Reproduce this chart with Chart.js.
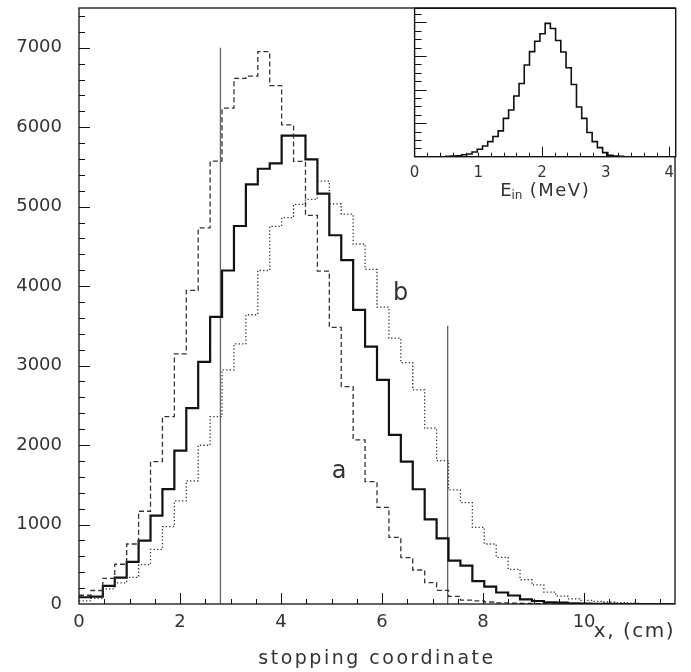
<!DOCTYPE html>
<html>
<head>
<meta charset="utf-8">
<script src="https://cdn.jsdelivr.net/npm/chart.js@4.4.1/dist/chart.umd.min.js"></script>
<style>
  html, body { margin: 0; padding: 0; background: #fff; }
  #wrap { position: relative; width: 691px; height: 672px; }
  #wrap canvas { position: absolute; left: 0; top: 0; }
</style>
</head>
<body>
<div id="wrap">
  <canvas id="mainPlot" width="691" height="672"></canvas>
  <canvas id="insetPlot" width="691" height="672"></canvas>
</div>
<script>
// ---- main histograms: stopping coordinate, 50 bins of 0.236 cm ----
const binWidth = 0.236;
// curve a (dashed)
const countsA = [110, 170, 323, 500, 755, 1167, 1792, 2358, 3147, 3946,
  4732, 5573, 6240, 6615, 6642, 6950, 6523, 6030, 5569, 4891,
  4188, 3480, 2736, 2065, 1540, 1217, 839, 583, 428, 269,
  172, 96, 50, 40, 25, 15, 10, 6, 3, 2,
  0, 0, 0, 0, 0, 0, 0, 0, 0, 0];
// middle curve (solid)
const countsMid = [85, 92, 227, 333, 530, 798, 1113, 1445, 1929, 2466,
  3046, 3613, 4197, 4757, 5280, 5477, 5544, 5895, 5895, 5594,
  5163, 4640, 4327, 3701, 3240, 2820, 2128, 1792, 1444, 1066,
  827, 546, 483, 288, 218, 145, 107, 59, 38, 21,
  17, 8, 4, 2, 1, 0, 0, 0, 0, 0];
// curve b (dotted)
const countsB = [40, 70, 190, 267, 336, 495, 688, 974, 1297, 1549,
  1998, 2358, 2946, 3273, 3640, 4197, 4753, 4862, 5029, 5092,
  5322, 5035, 4905, 4530, 4210, 3735, 3345, 3038, 2694, 2212,
  1804, 1435, 1276, 965, 755, 587, 436, 305, 240, 150,
  100, 65, 45, 33, 25, 18, 12, 5, 0, 0];

// cut lines
const cutX = [2.8, 7.3];
const cutTop = [7000, 3500];

// tick labels
const xTicks = [0, 2, 4, 6, 8, 10];
const yTicks = [0, 1000, 2000, 3000, 4000, 5000, 6000, 7000];

// curve names
const curveNames = ['a', 'b'];
const curveNameX = [5.15, 6.37];
const curveNameY = [1670, 3900];

// ---- inset: E_in spectrum, 50 bins of 0.082 MeV ----
const eBinWidth = 0.082;
const eCounts = [0, 0, 0, 0, 0, 0, 0.01, 0.02, 0.03, 0.06,
  0.08, 0.14, 0.22, 0.32, 0.45, 0.60, 0.77, 1.14, 1.39, 1.81,
  2.18, 2.73, 3.13, 3.44, 3.66, 3.97, 3.82, 3.46, 3.12, 2.65,
  2.15, 1.48, 1.14, 0.72, 0.45, 0.27, 0.12, 0.04, 0.02, 0.01,
  0, 0, 0, 0, 0, 0, 0, 0, 0, 0];
const eTicks = [0, 1, 2, 3, 4];

const FONT = '"DejaVu Sans", sans-serif';
const INK = '#333';

// left edge of each bin carries its count, step drawn to the next edge
function histPoints(counts, w) {
  const pts = counts.map((c, i) => ({ x: i * w, y: c }));
  pts.push({ x: counts.length * w, y: counts[counts.length - 1] });
  return pts;
}

function fixedTicks(list) {
  return scale => { scale.ticks = list.map(v => ({ value: v })); };
}

// fixed axis box, no extra label padding
function fixBox(w, h) {
  return s => {
    if (w != null) s.width = w;
    if (h != null) s.height = h;
    s.paddingTop = s.paddingBottom = s.paddingLeft = s.paddingRight = 0;
  };
}

// frame + inward ticks, PAW style
const frameTicks = {
  id: 'frameTicks',
  beforeDatasetsDraw(chart, args, o) {
    if (!o.fill) return;
    const a = chart.chartArea, ctx = chart.ctx;
    ctx.save();
    ctx.fillStyle = '#fff';
    ctx.fillRect(a.left, a.top, a.right - a.left, a.bottom - a.top);
    ctx.restore();
  },
  afterDatasetsDraw(chart, args, o) {
    const a = chart.chartArea, ctx = chart.ctx;
    const xs = chart.scales.x, ys = chart.scales.y;
    ctx.save();
    ctx.strokeStyle = '#111';
    ctx.lineWidth = o.lineWidth;
    ctx.strokeRect(a.left, a.top, a.right - a.left, a.bottom - a.top);
    ctx.lineWidth = 1;
    ctx.beginPath();
    const n1 = Math.floor(xs.max / o.xMinor + 1e-6);
    for (let i = 1; i <= n1; i++) {
      const v = i * o.xMinor;
      const major = Math.abs(v / o.xMajor - Math.round(v / o.xMajor)) < 1e-6;
      const px = Math.round(xs.getPixelForValue(v)) + 0.5;
      ctx.moveTo(px, a.bottom);
      ctx.lineTo(px, a.bottom - (major ? o.xMajorLen : o.xMinorLen));
    }
    const n2 = Math.floor(ys.max / o.yMinor + 1e-6);
    for (let i = 1; i <= n2; i++) {
      const v = i * o.yMinor;
      const major = Math.abs(v / o.yMajor - Math.round(v / o.yMajor)) < 1e-6;
      const py = Math.round(ys.getPixelForValue(v)) + 0.5;
      ctx.moveTo(a.left, py);
      ctx.lineTo(a.left + (major ? o.yMajorLen : o.yMinorLen), py);
    }
    ctx.stroke();
    ctx.restore();
  }
};

// free text on the main plot
const mainText = {
  id: 'mainText',
  afterDraw(chart) {
    const ctx = chart.ctx, a = chart.chartArea;
    const xs = chart.scales.x, ys = chart.scales.y;
    ctx.save();
    ctx.fillStyle = INK;
    ctx.textBaseline = 'middle';
    ctx.font = '24px ' + FONT;
    ctx.textAlign = 'center';
    curveNames.forEach((t, i) => {
      ctx.fillText(t, xs.getPixelForValue(curveNameX[i]), ys.getPixelForValue(curveNameY[i]));
    });
    ctx.font = '19px ' + FONT;
    ctx.letterSpacing = '2.5px';
    ctx.fillText('stopping coordinate', (a.left + a.right) / 2, 659);
    ctx.letterSpacing = '1.5px';
    ctx.font = '20px ' + FONT;
    ctx.textAlign = 'right';
    ctx.fillText('x, (cm)', a.right, 632);
    ctx.restore();
  }
};

const insetText = {
  id: 'insetText',
  afterDraw(chart) {
    const ctx = chart.ctx, a = chart.chartArea;
    ctx.save();
    ctx.fillStyle = INK;
    ctx.textBaseline = 'alphabetic';
    ctx.textAlign = 'left';
    const big = '18px ' + FONT, small = '12px ' + FONT;
    ctx.font = big;
    const wE = ctx.measureText('E').width;
    const rest = ' (MeV)';
    ctx.letterSpacing = '1.5px';
    const wR = ctx.measureText(rest).width;
    ctx.letterSpacing = '0px';
    ctx.font = small;
    const wS = ctx.measureText('in').width;
    const total = wE + wS + wR;
    let x = (a.left + a.right) / 2 - total / 2;
    const base = 196;
    ctx.font = big;
    ctx.fillText('E', x, base);
    x += wE;
    ctx.font = small;
    ctx.fillText('in', x, base + 3);
    x += wS;
    ctx.font = big;
    ctx.letterSpacing = '1.5px';
    ctx.fillText(rest, x, base);
    ctx.restore();
  }
};

const tickFont = { family: FONT, size: 18 };
const plainNum = v => String(v);

new Chart(document.getElementById('mainPlot'), {
  type: 'line',
  data: {
    datasets: [
      { label: 'b', data: histPoints(countsB, binWidth), stepped: 'before',
        borderColor: '#333', borderWidth: 1.3, borderDash: [1.3, 2.2] },
      { label: 'a', data: histPoints(countsA, binWidth), stepped: 'before',
        borderColor: '#333', borderWidth: 1.3, borderDash: [5, 3] },
      { label: 'mid', data: histPoints(countsMid, binWidth), stepped: 'before',
        borderColor: '#111', borderWidth: 2.2 },
      { label: 'cut1', data: [{ x: cutX[0], y: 0 }, { x: cutX[0], y: cutTop[0] }],
        borderColor: '#666', borderWidth: 1.3 },
      { label: 'cut2', data: [{ x: cutX[1], y: 0 }, { x: cutX[1], y: cutTop[1] }],
        borderColor: '#444', borderWidth: 1.1 }
    ]
  },
  options: {
    responsive: false,
    animation: false,
    devicePixelRatio: 1,
    elements: { point: { radius: 0 }, line: { tension: 0 } },
    layout: { padding: { top: 8, right: 16, left: 0, bottom: 0 } },
    plugins: {
      legend: { display: false },
      tooltip: { enabled: false },
      frameTicks: { lineWidth: 1.3, xMinor: 0.5, xMajor: 2, xMinorLen: 5, xMajorLen: 11,
        yMinor: 200, yMajor: 1000, yMinorLen: 6, yMajorLen: 11 }
    },
    scales: {
      x: {
        type: 'linear', min: 0, max: 11.8,
        afterBuildTicks: fixedTicks(xTicks),
        afterFit: fixBox(null, 68),
        grid: { display: false, drawTicks: false },
        border: { display: false },
        ticks: { font: tickFont, color: INK, padding: 8, maxRotation: 0, autoSkip: false, callback: plainNum }
      },
      y: {
        type: 'linear', min: 0, max: 7500,
        afterBuildTicks: fixedTicks(yTicks),
        afterFit: fixBox(79, null),
        grid: { display: false, drawTicks: false },
        border: { display: false },
        ticks: { font: tickFont, color: INK, padding: 17, callback: plainNum }
      }
    }
  },
  plugins: [frameTicks, mainText]
});

new Chart(document.getElementById('insetPlot'), {
  type: 'line',
  data: {
    datasets: [
      { label: 'E_in', data: histPoints(eCounts, eBinWidth), stepped: 'before',
        borderColor: '#111', borderWidth: 1.6 }
    ]
  },
  options: {
    responsive: false,
    animation: false,
    devicePixelRatio: 1,
    elements: { point: { radius: 0 }, line: { tension: 0 } },
    layout: { padding: { top: 8.3, right: 15.3, left: 414.6, bottom: 672 - 156.7 - 45 } },
    plugins: {
      legend: { display: false },
      tooltip: { enabled: false },
      frameTicks: { fill: true, lineWidth: 1.4, xMinor: 0.2, xMajor: 2, xMinorLen: 4, xMajorLen: 10,
        yMinor: 0.25, yMajor: 1, yMinorLen: 7, yMajorLen: 12 }
    },
    scales: {
      x: {
        type: 'linear', min: 0, max: 4.1,
        afterBuildTicks: fixedTicks(eTicks),
        afterFit: fixBox(null, 45),
        grid: { display: false, drawTicks: false },
        border: { display: false },
        ticks: { font: { family: FONT, size: 15 }, color: INK, padding: 7, maxRotation: 0, autoSkip: false, callback: plainNum }
      },
      y: {
        type: 'linear', min: 0, max: 4.42, display: false
      }
    }
  },
  plugins: [frameTicks, insetText]
});
</script>
</body>
</html>
